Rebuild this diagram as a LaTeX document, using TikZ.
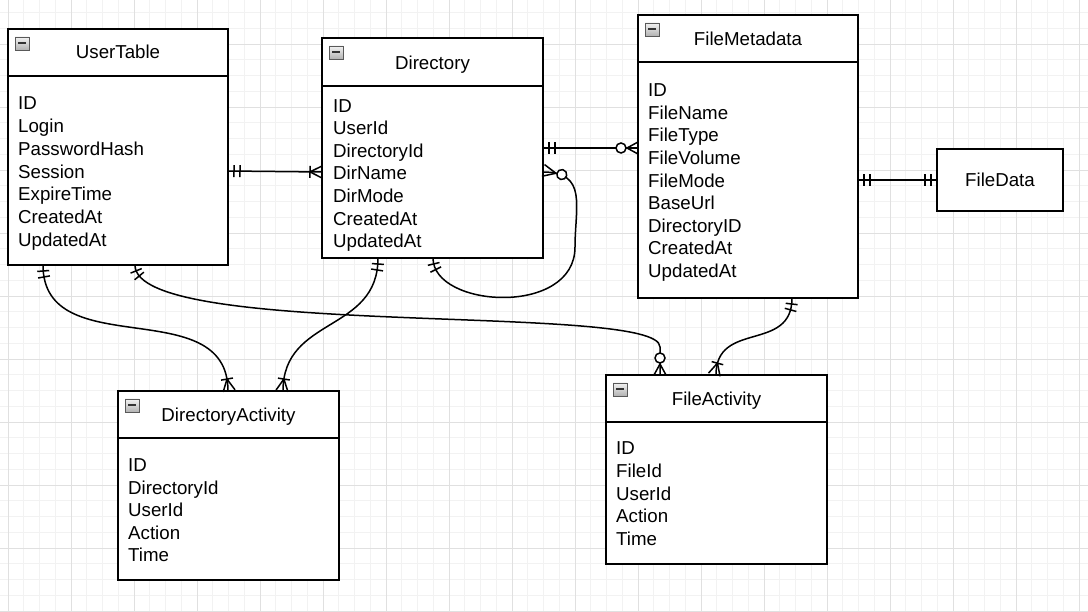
\documentclass[tikz,border=0pt]{standalone}
\usepackage{fontspec}
\setmainfont{Liberation Sans}
\usetikzlibrary{calc,decorations.markings}

\tikzset{
  entity/.style = {draw, line width=2pt, fill=white, inner sep=0pt,
    outer sep=0pt, anchor=north west},
  entity line/.style = {line width=2pt},
  title/.style = {anchor=base, inner sep=0pt},
  field/.style = {anchor=base west, inner sep=0pt},
  icon/.style = {draw=gray!70!black, line width=0.7pt, top color=gray!10,
    bottom color=gray!60, minimum width=14pt, minimum height=13pt,
    inner sep=0pt, outer sep=0pt, anchor=north west,
    path picture={\draw[line width=2pt, black!80]
      ([xshift=3pt]path picture bounding box.west) --
      ([xshift=-3pt]path picture bounding box.east);}},
  minor line/.style = {draw=black!5, line width=0.6pt},
  major line/.style = {draw=black!12, line width=0.8pt},
  conn/.style = {line width=1.5pt},
  er/.style = {line width=1.5pt},
  mand start/.style = {postaction={decorate, decoration={markings,
    mark=at position 6pt with {\draw[er] (0,-6pt) -- (0,6pt);},
    mark=at position 12pt with {\draw[er] (0,-6pt) -- (0,6pt);}}}},
  mand end/.style = {postaction={decorate, decoration={markings,
    mark=at position -6pt with {\draw[er] (0,-6pt) -- (0,6pt);},
    mark=at position -12pt with {\draw[er] (0,-6pt) -- (0,6pt);}}}},
  many end/.style = {postaction={decorate, decoration={markings,
    mark=at position -12pt with {\draw[er] (0,-6pt) -- (0,6pt)
      (0,0) -- (12pt,6pt) (0,0) -- (12pt,-6pt);}}}},
  zero many end/.style = {postaction={decorate, decoration={markings,
    mark=at position -11pt with {\draw[er] (0,0) -- (11pt,6pt)
      (0,0) -- (11pt,-6pt); \draw[er, fill=white] (-6pt,0) circle (5pt);}}}},
  zero many start/.style = {postaction={decorate, decoration={markings,
    mark=at position 13pt with {\draw[er] (0,0) -- (-13pt,6pt)
      (0,0) -- (-13pt,-6pt); \draw[er, fill=white] (6pt,0) circle (5pt);}}}},
}

\begin{document}
\begin{tikzpicture}[x=1pt, y=-1pt, font=\fontsize{18.7pt}{22.7pt}\selectfont]
  \useasboundingbox (0,0) rectangle (1088,612);
  \fill[white] (0,0) rectangle (1088,612);

  % grid
  \foreach \i in {0,...,68}
    \draw[minor line] ({8+\i*15.75},0) -- ({8+\i*15.75},612);
  \foreach \j in {-2,...,36}
    \draw[minor line] (0,{44+\j*15.75}) -- (1088,{44+\j*15.75});
  \foreach \i in {0,...,17}
    \draw[major line] ({8+\i*63},0) -- ({8+\i*63},612);
  \foreach \j in {0,...,9}
    \draw[major line] (0,{44+\j*63}) -- (1088,{44+\j*63});

  % tables
  \node[entity, minimum width=220pt, minimum height=236pt] (user) at (8,29) {};
  \node[entity, minimum width=221pt, minimum height=220pt] (dir) at (322,38) {};
  \node[entity, minimum width=220pt, minimum height=283pt] (meta) at (638,15) {};
  \node[entity, minimum width=126pt, minimum height=62pt] (data) at (937,149) {FileData};
  \node[entity, minimum width=221pt, minimum height=189pt] (diract) at (118,391) {};
  \node[entity, minimum width=221pt, minimum height=189pt] (fileact) at (606,375) {};

  \foreach \t/\h in {user/47, dir/48, meta/47, diract/47, fileact/47} {
    \draw[entity line] ($(\t.north west)+(0,\h)$) -- ($(\t.north east)+(0,\h)$);
    \node[icon] (\t-icon) at ($(\t.north west)+(7,8)$) {};
  }

  \node[title] (user-title) at ($(user.north)+(0,30)$) {UserTable};
  \node[title] (dir-title) at ($(dir.north)+(0,31.5)$) {Directory};
  \node[title] (meta-title) at ($(meta.north)+(0,30.5)$) {FileMetadata};
  \node[title] (diract-title) at ($(diract.north)+(0,31)$) {DirectoryActivity};
  \node[title] (fileact-title) at ($(fileact.north)+(0,30.5)$) {FileActivity};

  \foreach \f [count=\i] in {ID,Login,PasswordHash,Session,ExpireTime,CreatedAt,UpdatedAt}
    \node[field] (user-f\i) at ($(user.north west)+(10,{80.7+(\i-1)*22.8})$) {\f};
  \foreach \f [count=\i] in {ID,UserId,DirectoryId,DirName,DirMode,CreatedAt,UpdatedAt}
    \node[field] (dir-f\i) at ($(dir.north west)+(11,{74.2+(\i-1)*22.6})$) {\f};
  \foreach \f [count=\i] in {ID,FileName,FileType,FileVolume,FileMode,BaseUrl,DirectoryID,CreatedAt,UpdatedAt}
    \node[field] (meta-f\i) at ($(meta.north west)+(10,{81.7+(\i-1)*22.6})$) {\f};
  \foreach \f [count=\i] in {ID,DirectoryId,UserId,Action,Time}
    \node[field] (diract-f\i) at ($(diract.north west)+(10,{80.7+(\i-1)*22.5})$) {\f};
  \foreach \f [count=\i] in {ID,FileId,UserId,Action,Time}
    \node[field] (fileact-f\i) at ($(fileact.north west)+(10,{79.7+(\i-1)*22.75})$) {\f};

  % connector ends
  \coordinate (u-r) at ($(user.north east)+(0,142)$);
  \coordinate (u-b1) at ($(user.south west)+(35,0)$);
  \coordinate (u-b2) at ($(user.south west)+(127,0)$);
  \coordinate (d-l) at ($(dir.north west)+(0,134)$);
  \coordinate (d-r1) at ($(dir.north east)+(0,110)$);
  \coordinate (d-r2) at ($(dir.north east)+(0,134)$);
  \coordinate (d-b1) at ($(dir.south west)+(56,0)$);
  \coordinate (d-b2) at ($(dir.south west)+(111,0)$);
  \coordinate (m-l) at ($(meta.north west)+(0,133)$);
  \coordinate (m-r) at ($(meta.north east)+(0,165)$);
  \coordinate (m-b) at ($(meta.south west)+(154,0)$);
  \coordinate (da-t1) at ($(diract.north west)+(110,0)$);
  \coordinate (da-t2) at ($(diract.north west)+(165,0)$);
  \coordinate (fa-t1) at ($(fileact.north west)+(54,0)$);
  \coordinate (fa-t2) at ($(fileact.north west)+(110,0)$);

  % relations
  \draw[conn, mand start, many end] (u-r) -- (d-l);
  \draw[conn, mand start, zero many end] (d-r1) -- (m-l);
  \draw[conn, mand start, mand end] (m-r) -- (data.west);
  \draw[conn, zero many start, mand end] (d-r2)
    .. controls +(45,0) and +(0,-40) .. ++(32,75)
    .. controls +(0,70) and +(0,50) .. (d-b2);
  \draw[conn, mand start, many end] (u-b1) .. controls +(0,100) and +(0,-100) .. (da-t1);
  \draw[conn, mand start, many end] (d-b1) .. controls +(0,75) and +(0,-75) .. (da-t2);
  \draw[conn, mand start, zero many end] (u-b2) .. controls +(0,75) and +(0,-45)
    .. ($(fa-t1)+(0,-28)$) -- (fa-t1);
  \draw[conn, mand start, many end] (m-b) .. controls +(0,55) and +(0,-55) .. (fa-t2);
\end{tikzpicture}
\end{document}
